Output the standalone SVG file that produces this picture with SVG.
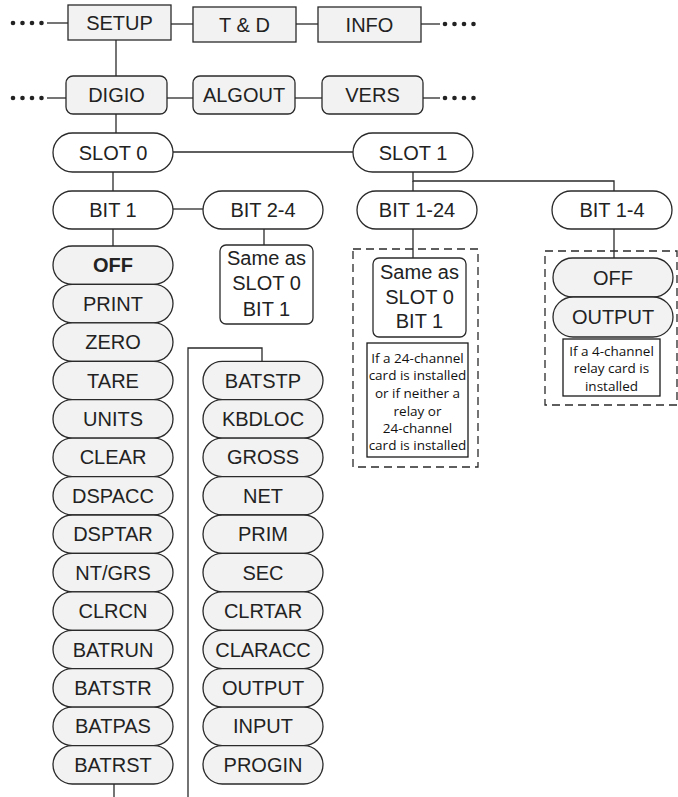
<svg xmlns="http://www.w3.org/2000/svg" width="678" height="797" viewBox="0 0 678 797">
<style>
.bx{fill:#f2f2f2;stroke:#2a2a2a;stroke-width:1.3}
.wh{fill:#ffffff;stroke:#2a2a2a;stroke-width:1.3}
.pl{fill:#f2f2f2;stroke:#2a2a2a;stroke-width:1.3}
.ln{fill:none;stroke:#2a2a2a;stroke-width:1.3}
.ds{fill:none;stroke:#2a2a2a;stroke-width:1.3;stroke-dasharray:8 5}
.nt{fill:#ffffff;stroke:#1a1a1a;stroke-width:1.3}
.t{font-family:"Liberation Sans",Arial,sans-serif;font-size:20px;fill:#222;text-anchor:middle;dominant-baseline:central}
.b{font-weight:bold}
.s{font-family:"Open Sans","Liberation Sans",sans-serif;font-size:13.5px;fill:#111;text-anchor:middle}
.dot{fill:#222}
</style>
<rect width="678" height="797" fill="#ffffff"/>
<g id="connectors">
<line class="ln" x1="47" y1="23" x2="68" y2="23"/>
<line class="ln" x1="171" y1="24" x2="193" y2="24"/>
<line class="ln" x1="296" y1="24" x2="318" y2="24"/>
<line class="ln" x1="421" y1="24" x2="440" y2="24"/>
<line class="ln" x1="116" y1="40" x2="116" y2="76"/>
<line class="ln" x1="47" y1="98" x2="66" y2="98"/>
<line class="ln" x1="167" y1="98" x2="193" y2="98"/>
<line class="ln" x1="295" y1="98" x2="322" y2="98"/>
<line class="ln" x1="423" y1="98" x2="440" y2="98"/>
<line class="ln" x1="116" y1="114" x2="116" y2="133"/>
<line class="ln" x1="173" y1="152" x2="353" y2="152"/>
<line class="ln" x1="113" y1="172" x2="113" y2="191"/>
<line class="ln" x1="173" y1="209" x2="203" y2="209"/>
<line class="ln" x1="113" y1="229" x2="113" y2="246"/>
<line class="ln" x1="264" y1="229" x2="264" y2="245"/>
<polyline class="ln" points="413,172 413,181 614,181 614,191"/>
<line class="ln" x1="413" y1="181" x2="413" y2="191"/>
<line class="ln" x1="413" y1="229" x2="413" y2="258"/>
<line class="ln" x1="614" y1="229" x2="614" y2="258"/>
<polyline class="ln" points="262,361 262,348 188,348 188,797"/>
<line class="ln" x1="114" y1="784" x2="114" y2="797"/>
<circle class="dot" cx="13" cy="23" r="2.3"/><circle class="dot" cx="22.5" cy="23" r="2.3"/><circle class="dot" cx="32" cy="23" r="2.3"/><circle class="dot" cx="41.5" cy="23" r="2.3"/>
<circle class="dot" cx="445" cy="24" r="2.3"/><circle class="dot" cx="454.5" cy="24" r="2.3"/><circle class="dot" cx="464" cy="24" r="2.3"/><circle class="dot" cx="473.5" cy="24" r="2.3"/>
<circle class="dot" cx="13" cy="98" r="2.3"/><circle class="dot" cx="22.5" cy="98" r="2.3"/><circle class="dot" cx="32" cy="98" r="2.3"/><circle class="dot" cx="41.5" cy="98" r="2.3"/>
<circle class="dot" cx="445" cy="98" r="2.3"/><circle class="dot" cx="454.5" cy="98" r="2.3"/><circle class="dot" cx="464" cy="98" r="2.3"/><circle class="dot" cx="473.5" cy="98" r="2.3"/>
</g>
<g id="setup"><rect class="bx" x="68" y="5" width="103" height="35"/><text class="t" x="119.5" y="22.5">SETUP</text></g>
<g id="td"><rect class="bx" x="193" y="7" width="103" height="35"/><text class="t" x="244.5" y="24.5">T &amp; D</text></g>
<g id="info"><rect class="bx" x="318" y="7" width="103" height="35"/><text class="t" x="369.5" y="24.5">INFO</text></g>
<g id="digio"><rect class="bx" x="66" y="76" width="101" height="38" rx="7"/><text class="t" x="116.5" y="95">DIGIO</text></g>
<g id="algout"><rect class="bx" x="193" y="76" width="102" height="38" rx="7"/><text class="t" x="244" y="95">ALGOUT</text></g>
<g id="vers"><rect class="bx" x="322" y="76" width="101" height="38" rx="7"/><text class="t" x="372.5" y="95">VERS</text></g>
<g id="slot0"><rect class="wh" x="53" y="133" width="120" height="39" rx="19.5"/><text class="t" x="113" y="152.5">SLOT 0</text></g>
<g id="slot1"><rect class="wh" x="353" y="133" width="120" height="39" rx="19.5"/><text class="t" x="413" y="152.5">SLOT 1</text></g>
<g id="bit1"><rect class="wh" x="53" y="191" width="120" height="38" rx="19"/><text class="t" x="113" y="210">BIT 1</text></g>
<g id="bit24"><rect class="wh" x="203" y="191" width="120" height="38" rx="19"/><text class="t" x="263" y="210">BIT 2-4</text></g>
<g id="bit124"><rect class="wh" x="357" y="191" width="120" height="38" rx="19"/><text class="t" x="417" y="210">BIT 1-24</text></g>
<g id="bit14"><rect class="wh" x="552" y="191" width="120" height="38" rx="19"/><text class="t" x="612" y="210">BIT 1-4</text></g>
<g id="same0"><rect class="wh" x="220" y="245" width="93" height="79" rx="6"/>
<text class="t" x="266.5" y="258">Same as</text><text class="t" x="266.5" y="283">SLOT 0</text><text class="t" x="266.5" y="309">BIT 1</text></g>
<g id="group-bit124"><rect class="ds" x="353" y="249" width="125" height="218"/>
<rect class="wh" x="373" y="258" width="93" height="79" rx="6"/>
<text class="t" x="419.5" y="272">Same as</text><text class="t" x="419.5" y="297">SLOT 0</text><text class="t" x="419.5" y="321">BIT 1</text>
<rect class="nt" x="367" y="343" width="101" height="114"/>
<text class="s" x="417.5" y="362.5">If a 24-channel</text>
<text class="s" x="417.5" y="380">card is installed</text>
<text class="s" x="417.5" y="398">or if neither a</text>
<text class="s" x="417.5" y="415.5">relay or</text>
<text class="s" x="417.5" y="433">24-channel</text>
<text class="s" x="417.5" y="450">card is installed</text>
</g>
<g id="group-bit14"><rect class="ds" x="545" y="251" width="132" height="154"/>
<rect class="pl" x="553" y="258" width="120" height="39" rx="19.5"/><text class="t" x="613" y="277.5">OFF</text>
<rect class="pl" x="553" y="297" width="120" height="40" rx="20"/><text class="t" x="613" y="317">OUTPUT</text>
<rect class="nt" x="563" y="339" width="97" height="57"/>
<text class="s" x="611.5" y="355.5">If a 4-channel</text>
<text class="s" x="611.5" y="373">relay card is</text>
<text class="s" x="611.5" y="390.5">installed</text>
</g>
<g id="l-off"><rect class="pl" x="53" y="246" width="120" height="38.4" rx="19.2"/><text class="t b" x="113" y="265.2">OFF</text></g>
<g id="l-print"><rect class="pl" x="53" y="284.4" width="120" height="38.4" rx="19.2"/><text class="t" x="113" y="303.6">PRINT</text></g>
<g id="l-zero"><rect class="pl" x="53" y="322.9" width="120" height="38.4" rx="19.2"/><text class="t" x="113" y="342.1">ZERO</text></g>
<g id="l-tare"><rect class="pl" x="53" y="361.3" width="120" height="38.4" rx="19.2"/><text class="t" x="113" y="380.5">TARE</text></g>
<g id="l-units"><rect class="pl" x="53" y="399.7" width="120" height="38.4" rx="19.2"/><text class="t" x="113" y="418.9">UNITS</text></g>
<g id="l-clear"><rect class="pl" x="53" y="438.2" width="120" height="38.4" rx="19.2"/><text class="t" x="113" y="457.4">CLEAR</text></g>
<g id="l-dspacc"><rect class="pl" x="53" y="476.6" width="120" height="38.4" rx="19.2"/><text class="t" x="113" y="495.8">DSPACC</text></g>
<g id="l-dsptar"><rect class="pl" x="53" y="515" width="120" height="38.4" rx="19.2"/><text class="t" x="113" y="534.2">DSPTAR</text></g>
<g id="l-ntgrs"><rect class="pl" x="53" y="553.4" width="120" height="38.4" rx="19.2"/><text class="t" x="113" y="572.6">NT/GRS</text></g>
<g id="l-clrcn"><rect class="pl" x="53" y="591.9" width="120" height="38.4" rx="19.2"/><text class="t" x="113" y="611.1">CLRCN</text></g>
<g id="l-batrun"><rect class="pl" x="53" y="630.3" width="120" height="38.4" rx="19.2"/><text class="t" x="113" y="649.5">BATRUN</text></g>
<g id="l-batstr"><rect class="pl" x="53" y="668.7" width="120" height="38.4" rx="19.2"/><text class="t" x="113" y="687.9">BATSTR</text></g>
<g id="l-batpas"><rect class="pl" x="53" y="707.2" width="120" height="38.4" rx="19.2"/><text class="t" x="113" y="726.4">BATPAS</text></g>
<g id="l-batrst"><rect class="pl" x="53" y="745.6" width="120" height="38.4" rx="19.2"/><text class="t" x="113" y="764.8">BATRST</text></g>
<g id="r-batstp"><rect class="pl" x="203" y="361.3" width="120" height="38.4" rx="19.2"/><text class="t" x="263" y="380.5">BATSTP</text></g>
<g id="r-kbdloc"><rect class="pl" x="203" y="399.7" width="120" height="38.4" rx="19.2"/><text class="t" x="263" y="418.9">KBDLOC</text></g>
<g id="r-gross"><rect class="pl" x="203" y="438.2" width="120" height="38.4" rx="19.2"/><text class="t" x="263" y="457.4">GROSS</text></g>
<g id="r-net"><rect class="pl" x="203" y="476.6" width="120" height="38.4" rx="19.2"/><text class="t" x="263" y="495.8">NET</text></g>
<g id="r-prim"><rect class="pl" x="203" y="515" width="120" height="38.4" rx="19.2"/><text class="t" x="263" y="534.2">PRIM</text></g>
<g id="r-sec"><rect class="pl" x="203" y="553.4" width="120" height="38.4" rx="19.2"/><text class="t" x="263" y="572.6">SEC</text></g>
<g id="r-clrtar"><rect class="pl" x="203" y="591.9" width="120" height="38.4" rx="19.2"/><text class="t" x="263" y="611.1">CLRTAR</text></g>
<g id="r-claracc"><rect class="pl" x="203" y="630.3" width="120" height="38.4" rx="19.2"/><text class="t" x="263" y="649.5">CLARACC</text></g>
<g id="r-output"><rect class="pl" x="203" y="668.7" width="120" height="38.4" rx="19.2"/><text class="t" x="263" y="687.9">OUTPUT</text></g>
<g id="r-input"><rect class="pl" x="203" y="707.2" width="120" height="38.4" rx="19.2"/><text class="t" x="263" y="726.4">INPUT</text></g>
<g id="r-progin"><rect class="pl" x="203" y="745.6" width="120" height="38.4" rx="19.2"/><text class="t" x="263" y="764.8">PROGIN</text></g>
</svg>
